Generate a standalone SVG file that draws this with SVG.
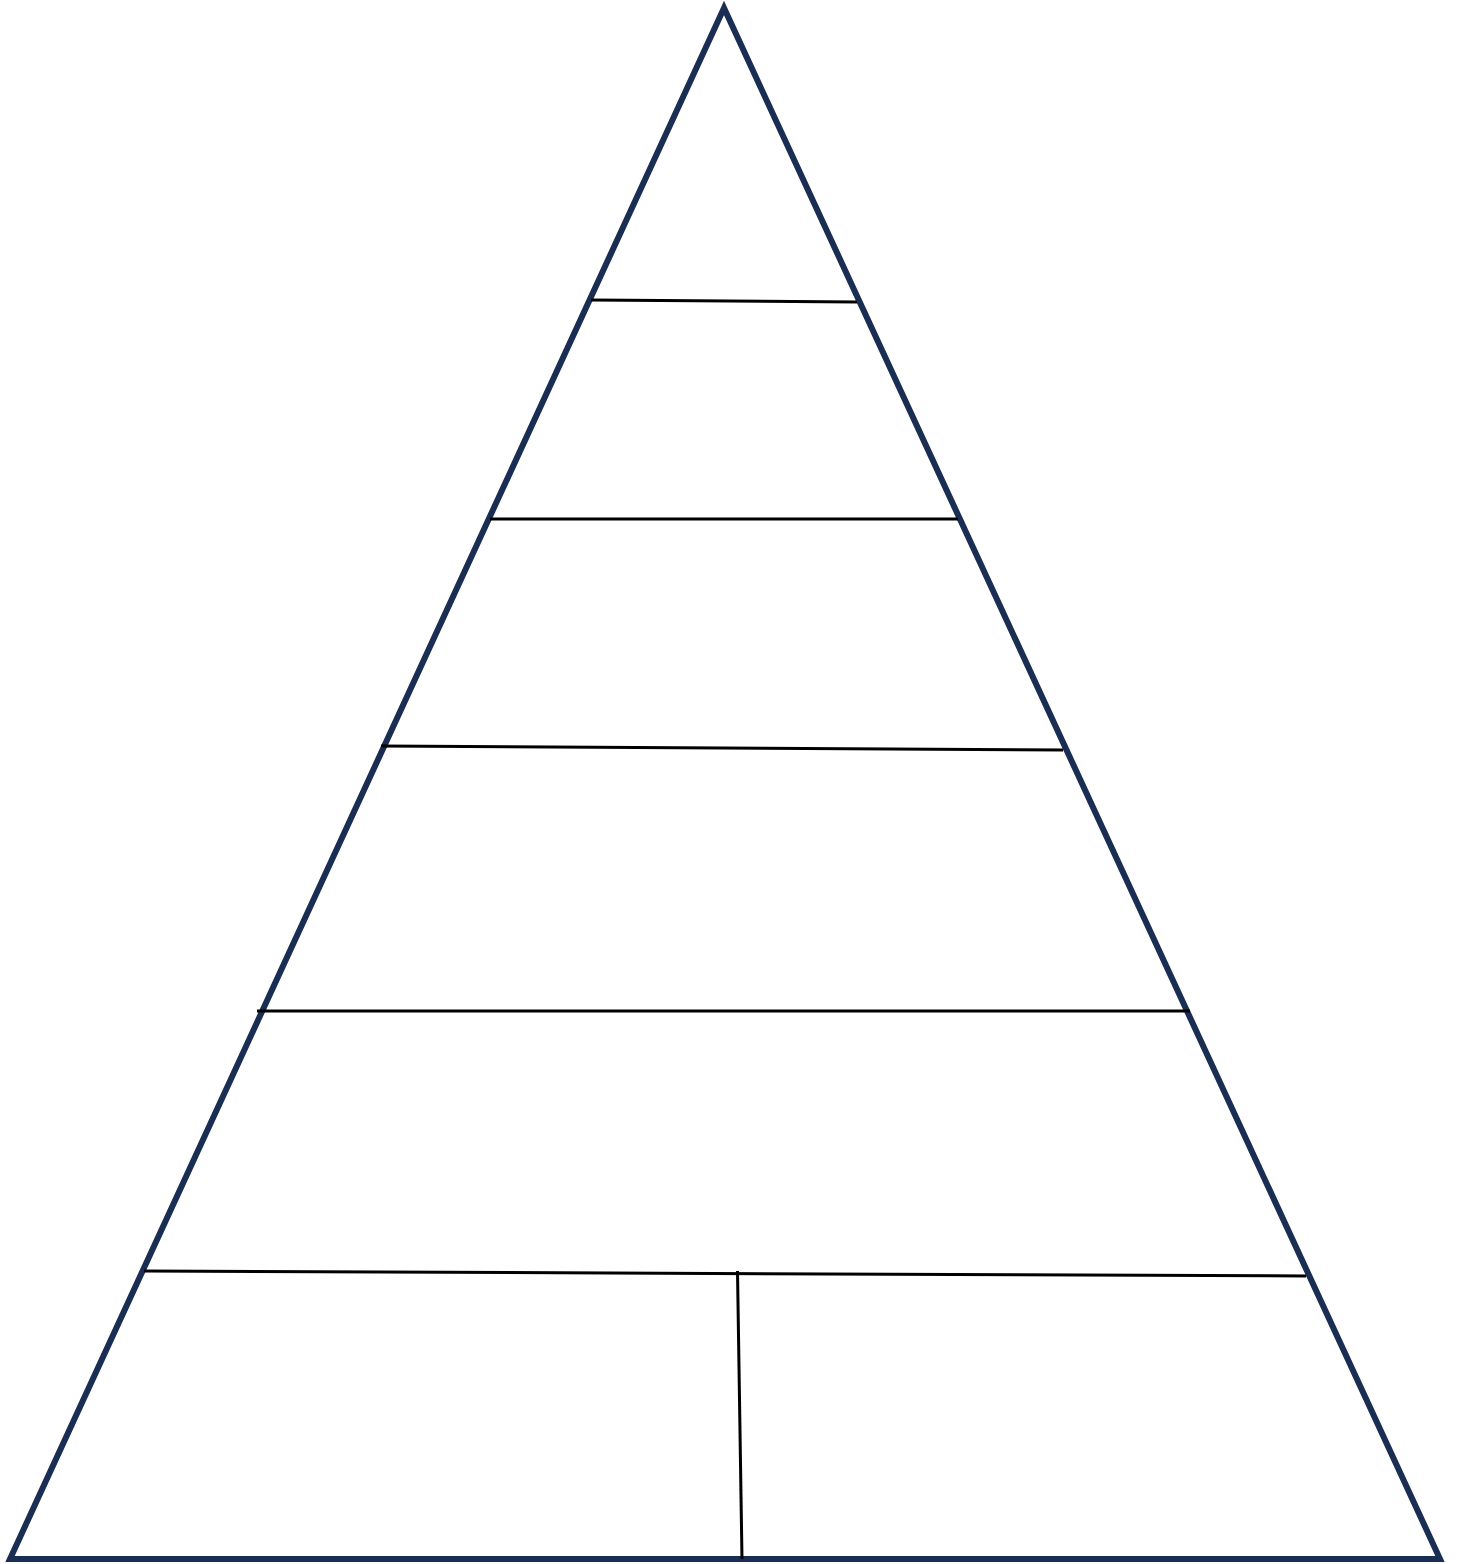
<svg xmlns="http://www.w3.org/2000/svg" width="1460" height="1564" viewBox="0 0 1460 1564">
<style>
.tri{fill:none;stroke:#1a2d52;stroke-width:6;stroke-linejoin:miter}
.ln{stroke:#000;stroke-width:3;fill:none}
</style>
<rect width="1460" height="1564" fill="#fff"/>
<g id="pyramid">
<polygon class="tri" points="724,8 10,1559 1440,1559"/>
</g>
<g id="connectors">
<line class="ln" x1="591" y1="300" x2="857" y2="302"/>
<line class="ln" x1="490" y1="519" x2="958" y2="519"/>
<line class="ln" x1="381" y1="746" x2="1063" y2="750"/>
<line class="ln" x1="257" y1="1011" x2="1190" y2="1011"/>
<line class="ln" x1="144" y1="1271" x2="1306" y2="1276"/>
<line class="ln" x1="737.5" y1="1271" x2="742" y2="1559"/>
</g>
</svg>
